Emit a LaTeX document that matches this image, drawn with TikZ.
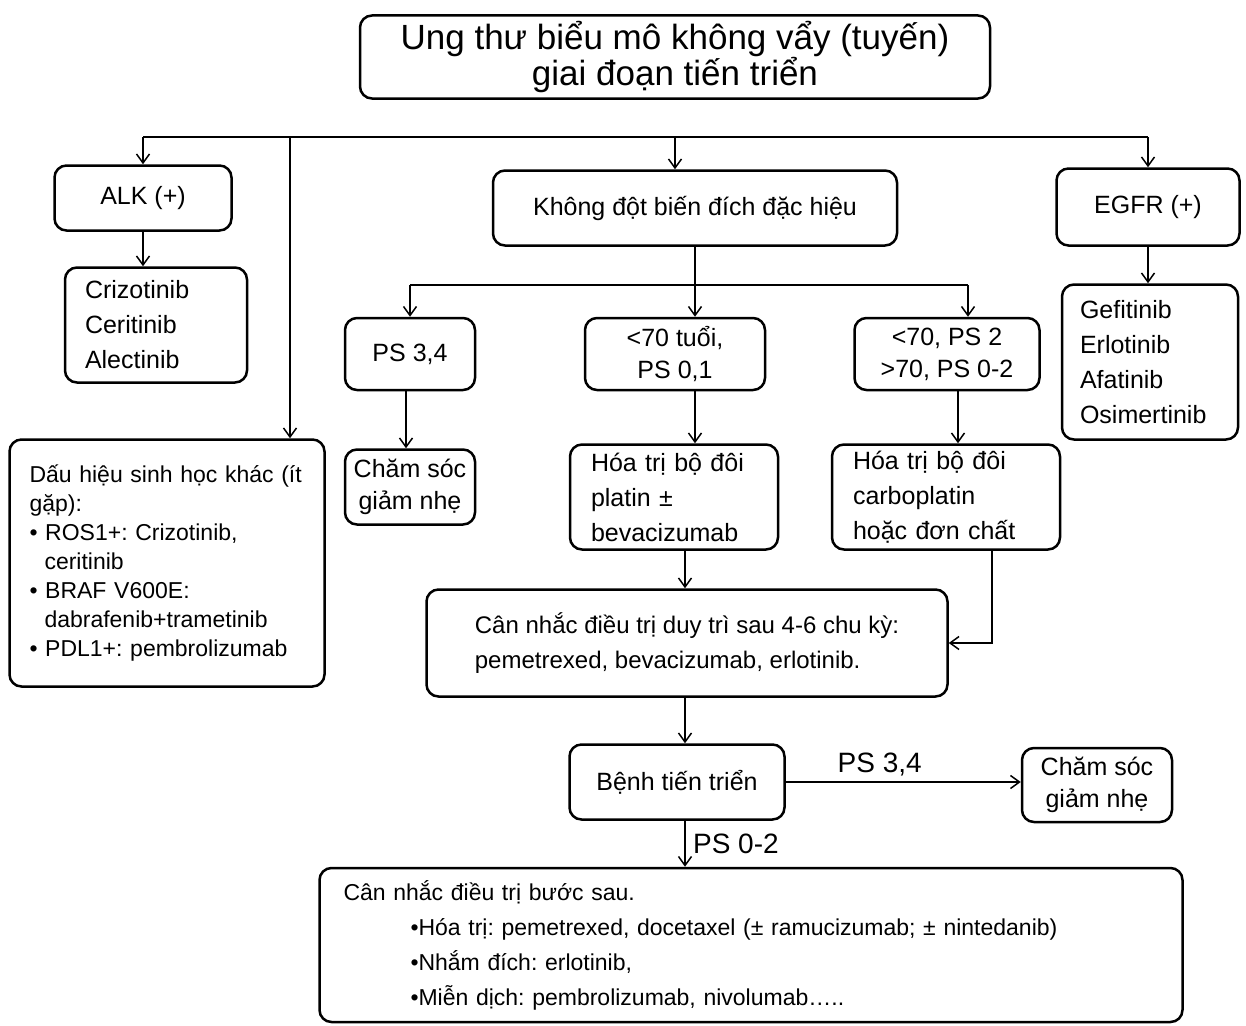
\documentclass[tikz,border=0pt]{standalone}
\usepackage{fontspec}
\setmainfont{Liberation Sans}
\frenchspacing
\usetikzlibrary{arrows,arrows.meta}

\begin{document}
\begin{tikzpicture}[x=1pt,y=-1pt,
  box/.style={draw, rounded corners=12pt, line width=2.5pt, align=center, inner sep=0pt,
    font=\fontsize{25}{35}\selectfont},
  leftbox/.style={box, align=left},
  arr/.style={-{Straight Barb[length=9pt,width=13pt]}, line width=1.5pt},
  lbl/.style={font=\fontsize{28}{30}\selectfont}]
\useasboundingbox (0,0) rectangle (1246,1025);
% title and first row
\node[box, minimum width=630pt, minimum height=83pt, font=\fontsize{35}{32}\selectfont]
  (title) at (675,57) {Ung thư biểu mô không vẩy (tuyến)\\giai đoạn tiến triển};
\node[box, minimum width=177pt, minimum height=65pt] (alk) at (143,198) {ALK (+)};
\node[box, minimum width=404pt, minimum height=75pt] (nomut) at (695,208) {Không đột biến đích đặc hiệu};
\node[box, minimum width=183pt, minimum height=77pt] (egfr) at (1148,207) {EGFR (+)};
% drugs
\node[leftbox, text width=142pt, inner xsep=20pt, minimum height=115pt] (alkdrug) at (156,325)
  {Crizotinib\\Ceritinib\\Alectinib};
\node[leftbox, text width=140pt, inner xsep=18pt, minimum height=155pt] (egfrdrug) at (1150,362)
  {Gefitinib\\Erlotinib\\Afatinib\\Osimertinib};
\node[leftbox, text width=275pt, inner xsep=20pt, minimum height=247pt, font=\fontsize{23}{29}\selectfont]
  (other) at (167,563) {Dấu hiệu sinh học khác (ít\\gặp):\\• ROS1+: Crizotinib,\\\hspace*{15pt}ceritinib\\
  • BRAF V600E:\\\hspace*{15pt}dabrafenib+trametinib\\• PDL1+: pembrolizumab};
% PS groups
\node[box, minimum width=130pt, minimum height=72pt] (ps34) at (410,354) {PS 3,4};
\node[box, minimum width=180pt, minimum height=72pt, font=\fontsize{25}{32}\selectfont] (young) at (675,354)
  {<70 tuổi,\\PS 0,1};
\node[box, minimum width=185pt, minimum height=72pt, font=\fontsize{25}{32}\selectfont] (old) at (947,354)
  {<70, PS 2\\>70, PS 0-2};
\node[box, minimum width=130pt, minimum height=75pt, font=\fontsize{25}{32}\selectfont] (care1) at (410,487)
  {Chăm sóc\\giảm nhẹ};
\node[leftbox, text width=166pt, inner xsep=21pt, minimum height=105pt] (platin) at (674,497)
  {Hóa trị bộ đôi\\platin ±\\bevacizumab};
\node[leftbox, text width=186pt, inner xsep=21pt, minimum height=105pt] (carbo) at (946,497)
  {Hóa trị bộ đôi\\carboplatin\\hoặc đơn chất};
\node[leftbox, minimum width=521pt, minimum height=107pt, font=\fontsize{24}{35}\selectfont] (maint) at (687,643)
  {Cân nhắc điều trị duy trì sau 4-6 chu kỳ:\\pemetrexed, bevacizumab, erlotinib.};
% progression
\node[box, minimum width=215pt, minimum height=75pt] (prog) at (677,782) {Bệnh tiến triển};
\node[box, minimum width=150pt, minimum height=74pt, font=\fontsize{25}{32}\selectfont] (care2) at (1097,785)
  {Chăm sóc\\giảm nhẹ};
\node[leftbox, text width=815pt, inner xsep=24pt, minimum height=154pt, font=\fontsize{23}{35}\selectfont]
  (next) at (751,945) {Cân nhắc điều trị bước sau.\\
  \hspace*{67pt}•Hóa trị: pemetrexed, docetaxel (± ramucizumab; ± nintedanib)\\
  \hspace*{67pt}•Nhắm đích: erlotinib,\\
  \hspace*{67pt}•Miễn dịch: pembrolizumab, nivolumab…..};
% first split
\coordinate (bus) at (0,137);
\coordinate (side) at (290,137);
\coordinate (mid) at (675,137);
\draw[line width=1.5pt] (alk.north |- bus) -- (egfr.north |- bus);
\draw[arr] (alk.north |- bus) -- (alk.north);
\draw[arr] (side) -- (side |- other.north);
\draw[arr] (mid) -- (mid |- nomut.north);
\draw[arr] (egfr.north |- bus) -- (egfr.north);
\draw[arr] (alk.south) -- (alk.south |- alkdrug.north);
\draw[arr] (egfr.south) -- (egfr.south |- egfrdrug.north);
% second split
\coordinate (bus2) at (0,285);
\coordinate (oldin) at (968,285);
\draw[arr] (nomut.south) -- (nomut.south |- young.north);
\draw[line width=1.5pt] (ps34.north |- bus2) -- (oldin);
\draw[arr] (ps34.north |- bus2) -- (ps34.north);
\draw[arr] (oldin) -- (oldin |- old.north);
\coordinate (youngout) at (695,390);
\coordinate (oldout) at (958,390);
\coordinate (ps34out) at (406,390);
\coordinate (platout) at (685,550);
\coordinate (carbout) at (992,550);
\draw[arr] (ps34out) -- (ps34out |- care1.north);
\draw[arr] (youngout) -- (youngout |- platin.north);
\draw[arr] (oldout) -- (oldout |- carbo.north);
\draw[arr] (platout) -- (platout |- maint.north);
\draw[arr] (carbout) |- (maint.east);
\coordinate (maintout) at (685,697);
\draw[arr] (maintout) -- (maintout |- prog.north);
\draw[arr] (prog.east) -- node[lbl, above=2pt, pos=0.4] (lbl34) {PS 3,4} (prog.east -| care2.west);
\coordinate (progout) at (685,820);
\draw[arr] (progout) -- node[lbl, right=4pt] (lbl02) {PS 0-2} (progout |- next.north);
\end{tikzpicture}
\end{document}
